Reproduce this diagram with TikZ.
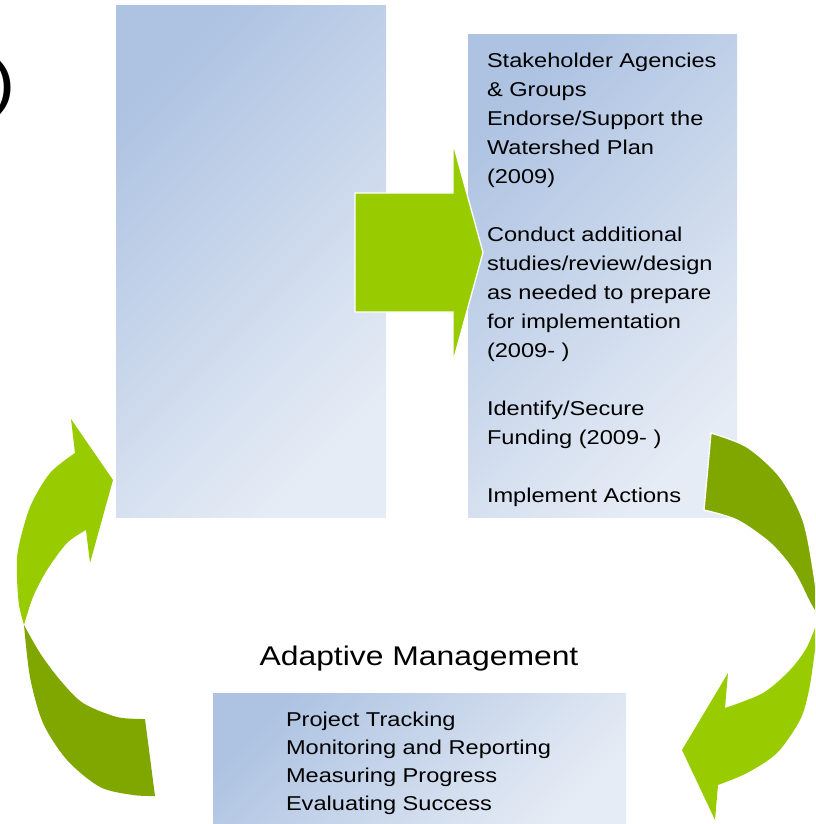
\documentclass[tikz,border=0pt]{standalone}
\usepackage{fontspec}
\setmainfont[FakeStretch=1.18]{Liberation Sans}
\definecolor{lgreen}{RGB}{153,204,0}
\definecolor{dgreen}{RGB}{128,166,0}
\definecolor{boxA}{RGB}{174,195,226}
\definecolor{boxB}{RGB}{230,236,245}
\begin{document}
\begin{tikzpicture}[x=1pt,y=-1pt,
  panel/.style={draw=none, top color=boxA, bottom color=boxB, shading angle=45,
    inner sep=0pt, outer sep=0pt, anchor=north west},
  txt/.style={inner sep=0pt, outer sep=0pt, align=left, anchor=base west},
  lightpiece/.style={fill=lgreen},
  darkpiece/.style={fill=dgreen},
  outlined/.style={draw=white, line width=1.3pt, line join=miter}]
\useasboundingbox (0,0) rectangle (815,824);
\clip (0,0) rectangle (815,824);

% panels
\node[panel, minimum width=270pt, minimum height=511pt] (leftbox) at (116,6) {};
\node[panel, minimum width=269pt, minimum height=482pt] (rightbox) at (468,35) {};
\node[panel, minimum width=413pt, minimum height=140pt] (bottombox) at (213,693) {};

% stray parenthesis
\node[inner sep=0pt, anchor=base east, font=\fontsize{64}{64}\selectfont] (paren) at (16,105) {)};

% straight block arrow
\filldraw[lightpiece, outlined] (355,193) -- (453,193) -- (453,143) -- (483,252.5)
  -- (453,362) -- (453,312) -- (355,312) -- cycle;

% right curved arrow (dark upper part)
\filldraw[darkpiece, outlined] (711,433) -- (704,510)
  -- plot[smooth] coordinates {(704,510) (737,520) (770,543) (793,570) (810,603) (819,618)}
  -- plot[smooth] coordinates {(819,618) (814,575) (803,520) (780,477) (747,447) (711,433)}
  -- cycle;
% right curved arrow (light lower part)
\fill[lightpiece]
  plot[smooth] coordinates {(819,617) (815,650) (809,690) (800,720) (777,753) (747,773) (718,785)}
  -- (715,820) -- (682,750) -- (728,673) -- (725,708)
  -- plot[smooth] coordinates {(725,708) (763,693) (790,670) (807,647) (819,617)}
  -- cycle;

% left curved arrow (light upper part)
\fill[lightpiece] (113,480) -- (71,419) -- (75,453)
  -- plot[smooth] coordinates {(75,453) (50,473) (30,507) (18,550) (17,577) (19,605) (24,625)}
  -- plot[smooth] coordinates {(24,625) (33,597) (47,570) (67,543) (86,530)}
  -- (90,563) -- cycle;
% left curved arrow (dark lower part)
\fill[darkpiece]
  plot[smooth] coordinates {(24,625) (30,677) (43,723) (67,760) (100,787) (133,795) (155,796)}
  -- (145,719)
  -- plot[smooth] coordinates {(145,719) (117,717) (83,703) (60,680) (40,653) (24,625)}
  -- cycle;

% texts (base anchor = baseline of the last line)
\node[txt, font=\fontsize{20}{29}\selectfont] (righttext) at (487,502)
  {Stakeholder Agencies\\ \& Groups\\ Endorse/Support the\\ Watershed Plan\\ (2009)\\[29pt]
   Conduct additional\\ studies/review/design\\ as needed to prepare\\ for implementation\\ (2009- )\\[29pt]
   Identify/Secure\\ Funding (2009- )\\[29pt]
   Implement Actions};

\node[inner sep=0pt, anchor=base, font=\fontsize{27}{27}\selectfont] (amtitle) at (419,665) {Adaptive Management};

\node[txt, font=\fontsize{20}{28}\selectfont] (bottomtext) at (286,810)
  {Project Tracking\\ Monitoring and Reporting\\ Measuring Progress\\ Evaluating Success};
\end{tikzpicture}
\end{document}
